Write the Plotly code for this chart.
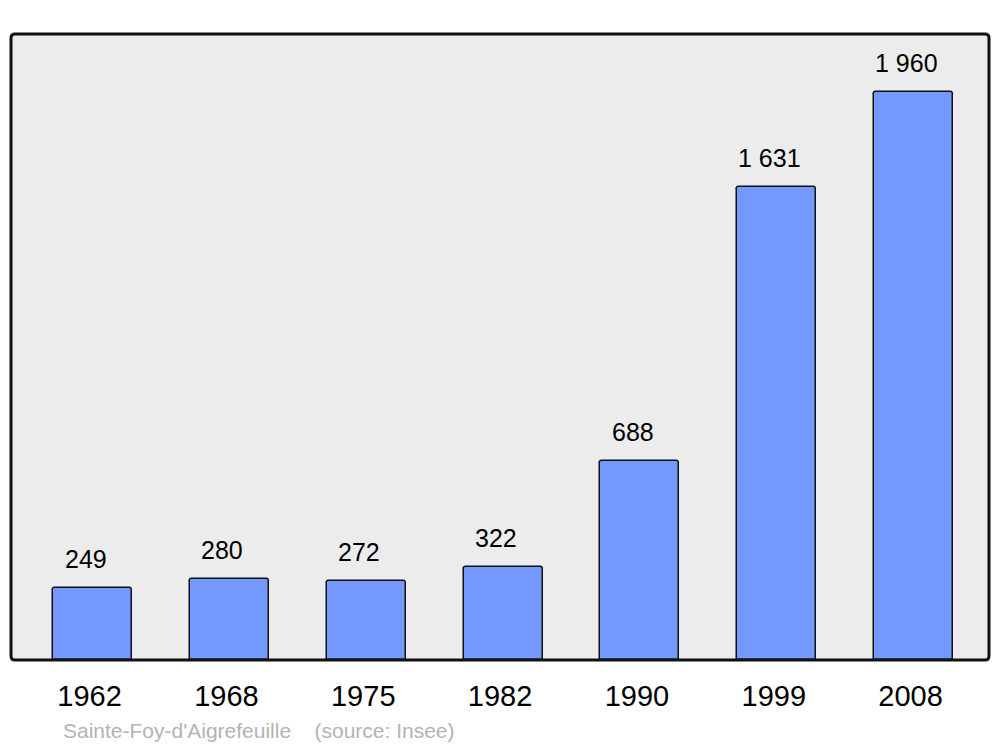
import plotly.graph_objects as go

years = ["1962", "1968", "1975", "1982", "1990", "1999", "2008"]
population = [249, 280, 272, 322, 688, 1631, 1960]
value_labels = ["249", "280", "272", "322", "688", "1 631", "1 960"]
caption = "Sainte-Foy-d'Aigrefeuille    (source: Insee)"

W, H = 1000, 747
L, R, T, B = 11, 11, 34, 87
pw, ph = W - L - R, H - T - B

xs = list(range(len(years)))
FONT = "Liberation Sans, Arial, sans-serif"

fig = go.Figure()
fig.add_trace(go.Bar(
    x=xs, y=population, width=0.577,
    marker=dict(color="#7399ff", line=dict(color="#111111", width=1.5), cornerradius=3),
    hoverinfo="skip",
))

for x, v, t in zip(xs, population, value_labels):
    fig.add_annotation(x=x, y=v, text=t, showarrow=False, xanchor="center",
                       yanchor="bottom", yshift=13, xshift=-7,
                       font=dict(family=FONT, size=25, color="#000000"))

def rounded(r_px):
    rx, ry = r_px / pw, r_px / ph
    return (f"M {rx},0 L {1-rx},0 Q 1,0 1,{ry} L 1,{1-ry} Q 1,1 {1-rx},1 "
            f"L {rx},1 Q 0,1 0,{1-ry} L 0,{ry} Q 0,0 {rx},0 Z")

fig.add_shape(type="path", xref="paper", yref="paper", path=rounded(4),
              fillcolor="#ececec", line=dict(width=0), layer="below")
fig.add_shape(type="path", xref="paper", yref="paper", path=rounded(4),
              fillcolor="rgba(0,0,0,0)", line=dict(color="#111111", width=3), layer="above")

fig.add_annotation(xref="paper", yref="paper", x=(61 - L) / pw, y=-(730 - 660) / ph,
                   text=caption, showarrow=False, xanchor="left", yanchor="middle",
                   font=dict(family=FONT, size=21, color="#b3b3b3"))

fig.update_layout(
    width=W, height=H,
    margin=dict(l=L, r=R, t=T, b=B),
    paper_bgcolor="white", plot_bgcolor="white",
    showlegend=False,
    bargap=0,
    xaxis=dict(range=[-0.596, 6.551], tickvals=xs, ticktext=years, showgrid=False,
               zeroline=False, showline=False, ticks="", ticklabelstandoff=16,
               ticklabelshift=-3,
               tickfont=dict(family=FONT, size=29, color="#000000"),
               fixedrange=True),
    yaxis=dict(range=[0, 2160], visible=False, showgrid=False, zeroline=False, fixedrange=True),
)

fig.write_html("out.html", config={"displayModeBar": False},
               post_script="document.body.style.margin='0';")
